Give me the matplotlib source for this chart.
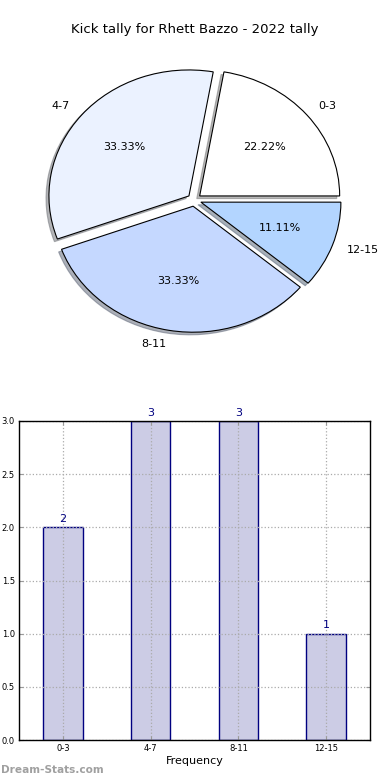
import matplotlib
matplotlib.use("Agg")
import matplotlib.pyplot as plt

categories = ["0-3", "4-7", "8-11", "12-15"]
counts = [2, 3, 3, 1]
pie_colors = ["#FFFFFF", "#EBF2FF", "#C5D8FF", "#B3D5FF"]
title = "Kick tally for Rhett Bazzo - 2022 tally"

W, H = 390, 780
fig = plt.figure(figsize=(W / 100, H / 100), dpi=100)

# ---- Pie ----
rx_px, ry_px = 140.0, 126.0
pl, pb, pw, ph = 0, H - 350, 390, 300  # axes in pixels (bottom-left origin)
axp = fig.add_axes([pl / W, pb / H, pw / W, ph / H])
wedges, texts, autotexts = axp.pie(
    counts, labels=categories, colors=pie_colors, explode=[0.05] * 4,
    autopct="%.2f%%", shadow={"ox": -0.015, "oy": -0.015, "shade": 0.55},
    startangle=0, counterclock=True,
    wedgeprops=dict(edgecolor="black", linewidth=0.8),
    textprops=dict(fontsize=8), labeldistance=1.11, pctdistance=0.6)
axp.set_aspect("auto")
axp.set_xlim(-pw / 2 / rx_px + 0.005, pw / 2 / rx_px + 0.005)
axp.set_ylim(-ph / 2 / ry_px + 0.0, ph / 2 / ry_px + 0.0)
axp.axis("off")
fig.text(195 / W, 1 - 30 / H, title, ha="center", va="center", fontsize=9.5)

# ---- Bar ----
bl, bt, br, bbm = 19, 421, 370, 740
axb = fig.add_axes([bl / W, 1 - bbm / H, (br - bl) / W, (bbm - bt) / H])
x = list(range(len(categories)))
axb.bar(x, counts, width=0.45, color="#CCCCE5", edgecolor="#000080", linewidth=1.0)
axb.set_xlim(-0.5, 3.5)
axb.set_ylim(0, 3)
axb.set_xticks(x)
axb.set_xticklabels(categories)
axb.set_yticks([0, 0.5, 1.0, 1.5, 2.0, 2.5, 3.0])
axb.set_yticklabels(["0.0", "0.5", "1.0", "1.5", "2.0", "2.5", "3.0"])
axb.tick_params(labelsize=6, direction="in", top=True, right=True, length=3, color="#999999", pad=3)
axb.grid(True, linestyle=":", color="#AAAAAA", linewidth=0.9)
axb.set_axisbelow(False)
for s in axb.spines.values():
    s.set_linewidth(1.0)
    s.set_zorder(5)
for xi, c in zip(x, counts):
    axb.text(xi, c + 0.03, str(c), ha="center", va="bottom", fontsize=8, color="#000080")
axb.set_xlabel("Frequency", fontsize=8, labelpad=2)

fig.text(1 / W, 1 - 770 / H, "Dream-Stats.com", ha="left", va="center",
         fontsize=7.6, color="#A0A0A0", fontweight="bold")

fig.savefig("out.png", dpi=100)
